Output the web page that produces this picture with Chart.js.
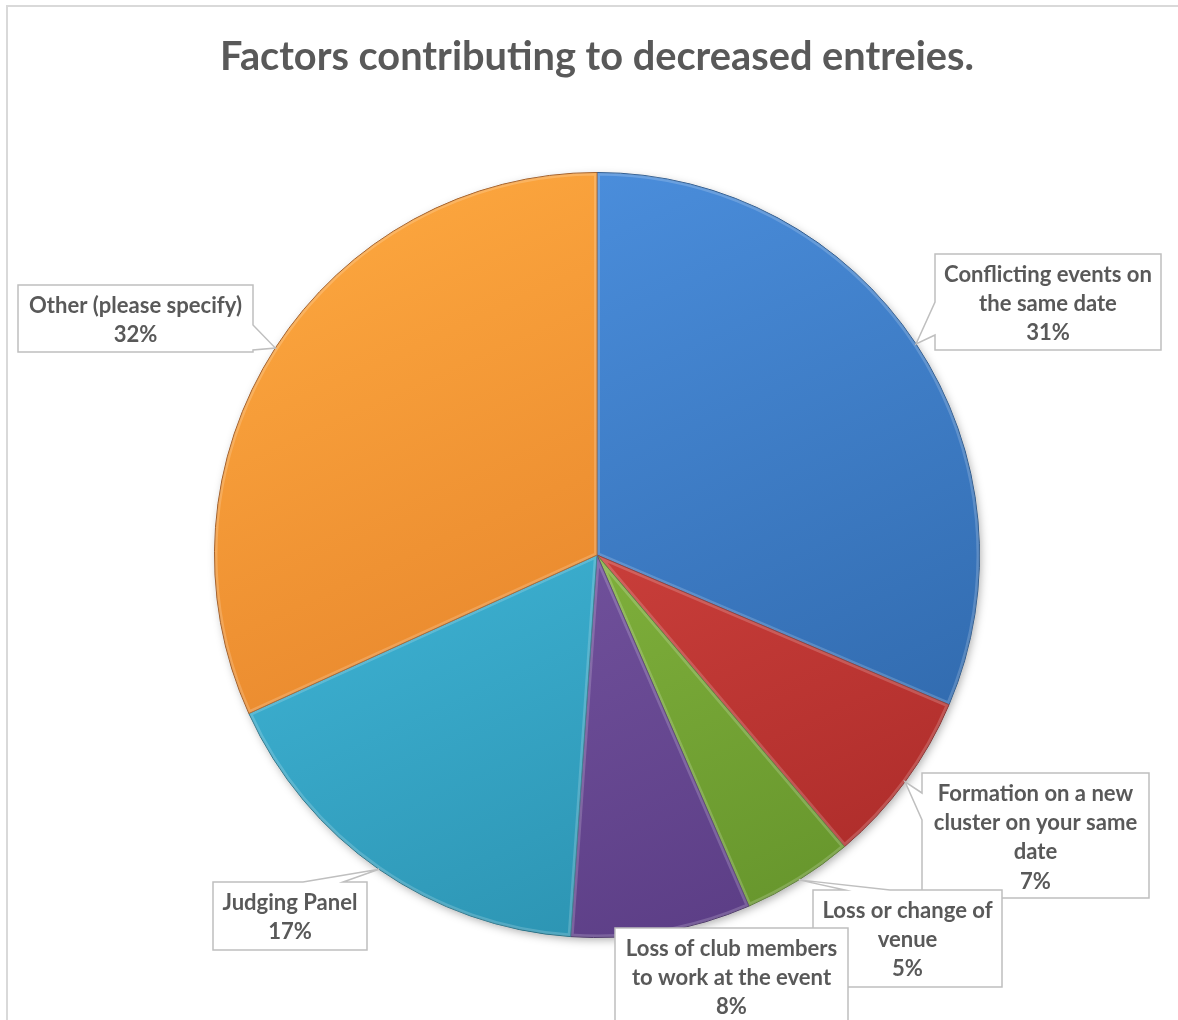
<!DOCTYPE html>
<html><head><meta charset="utf-8">
<script src="https://cdn.jsdelivr.net/npm/chart.js@4.4.0/dist/chart.umd.min.js"></script>
<style>
html,body{margin:0;padding:0;background:#fff;overflow:hidden}
#frame{position:absolute;left:6px;top:5px;width:1300px;height:1100px;border-left:2px solid #d9d9d9;border-top:2px solid #d9d9d9;box-sizing:border-box}
#wrap{position:absolute;left:0;top:0;width:1178px;height:1020px}
</style></head><body>
<div id="frame"></div>
<div id="wrap"><canvas id="c"></canvas></div>
<script>
// ---- data ----
const titleText = 'Factors contributing to decreased entreies.';
const categories = [
  'Conflicting events on the same date',
  'Formation on a new cluster on your same date',
  'Loss or change of venue',
  'Loss of club members to work at the event',
  'Judging Panel',
  'Other (please specify)'
];
const values = [31.4, 7.4, 4.7, 7.6, 17.1, 31.8];

// ---- styles ----
const topColors    = ['#4d91e0', '#e4504a', '#97c94a', '#8463b0', '#49c5e8', '#fca63e'];
const bottomColors = ['#2d65a7', '#ad2c2a', '#66952c', '#5b3d85', '#2a90ae', '#dc7523'];
const edgeColors   = ['#1f4f86', '#7e1f1d', '#4a6e1f', '#40295f', '#1c6a80', '#9c5216'];
const FONT = 'Lato, Carlito, Calibri, "Open Sans", sans-serif';
const TEXT_COLOR = '#595959';

// callout boxes (layout only)
const callouts = [
  {x: 935, y: 254, w: 226, h: 96,  notch: {side: 'left',  a: 302, b: 335}},
  {x: 922, y: 773, w: 227, h: 125, notch: {side: 'left',  a: 793, b: 820}},
  {x: 813, y: 890, w: 189, h: 97,  notch: {side: 'top',   a: 845, b: 890}},
  {x: 615, y: 928, w: 233, h: 150, notch: null},
  {x: 213, y: 882, w: 154, h: 68,  notch: {side: 'top',   a: 303, b: 343}},
  {x: 18,  y: 285, w: 235, h: 67,  notch: {side: 'right', a: 325, b: 350}}
];

// fit font sizes to reference text widths
const mctx = document.createElement('canvas').getContext('2d');
function fitSize(text, target) {
  mctx.font = 'bold 100px ' + FONT;
  return 100 * target / mctx.measureText(text).width;
}
const titleSize = fitSize(titleText, 754);
const labelSize = fitSize('Conflicting events on', 208);
const lineH = 29.3;

const total = values.reduce((a, b) => a + b, 0);

function wrapText(ctx, text, maxW) {
  const words = text.split(' ');
  const lines = [];
  let cur = '';
  for (const w of words) {
    const t = cur ? cur + ' ' + w : w;
    if (cur && ctx.measureText(t).width > maxW) { lines.push(cur); cur = w; }
    else cur = t;
  }
  if (cur) lines.push(cur);
  return lines;
}

const shadowPlugin = {
  id: 'pieShadow',
  beforeDatasetsDraw(chart) {
    const arc = chart.getDatasetMeta(0).data[0];
    if (!arc) return;
    const ctx = chart.ctx;
    ctx.save();
    ctx.shadowColor = 'rgba(0,0,0,0.35)';
    ctx.shadowBlur = 10;
    ctx.shadowOffsetX = 2;
    ctx.shadowOffsetY = 3;
    ctx.beginPath();
    ctx.arc(arc.x, arc.y, arc.outerRadius - 1, 0, Math.PI * 2);
    ctx.fillStyle = '#888';
    ctx.fill();
    ctx.restore();
  },
  afterDatasetsDraw(chart) {
    const ctx = chart.ctx;
    chart.getDatasetMeta(0).data.forEach((arc) => {
      const {x, y, startAngle, endAngle, outerRadius} = arc;
      ctx.save();
      ctx.beginPath();
      ctx.moveTo(x, y);
      ctx.arc(x, y, outerRadius, startAngle, endAngle);
      ctx.closePath();
      ctx.clip();
      ctx.lineWidth = 6;
      ctx.strokeStyle = 'rgba(255,255,255,0.18)';
      ctx.stroke();
      ctx.restore();
    });
  }
};

const calloutPlugin = {
  id: 'callouts',
  afterDraw(chart) {
    const ctx = chart.ctx;
    const arcs = chart.getDatasetMeta(0).data;
    ctx.save();
    ctx.font = 'bold ' + labelSize + 'px ' + FONT;
    arcs.forEach((arc, i) => {
      const c = callouts[i];
      const mid = (arc.startAngle + arc.endAngle) / 2;
      const tx = arc.x + arc.outerRadius * Math.cos(mid);
      const ty = arc.y + arc.outerRadius * Math.sin(mid);
      const {x, y, w, h, notch} = c;
      ctx.beginPath();
      ctx.moveTo(x, y);
      if (notch && notch.side === 'top') { ctx.lineTo(notch.a, y); ctx.lineTo(tx, ty); ctx.lineTo(notch.b, y); }
      ctx.lineTo(x + w, y);
      if (notch && notch.side === 'right') { ctx.lineTo(x + w, notch.a); ctx.lineTo(tx, ty); ctx.lineTo(x + w, notch.b); }
      ctx.lineTo(x + w, y + h);
      if (notch && notch.side === 'bottom') { ctx.lineTo(notch.b, y + h); ctx.lineTo(tx, ty); ctx.lineTo(notch.a, y + h); }
      ctx.lineTo(x, y + h);
      if (notch && notch.side === 'left') { ctx.lineTo(x, notch.b); ctx.lineTo(tx, ty); ctx.lineTo(x, notch.a); }
      ctx.closePath();
      ctx.fillStyle = '#ffffff';
      ctx.fill();
      ctx.lineWidth = 1.5;
      ctx.strokeStyle = '#bfbfbf';
      ctx.stroke();

      const lines = wrapText(ctx, chart.data.labels[i], w - 12);
      lines.push(Math.round(values[i] / total * 100) + '%');
      ctx.fillStyle = TEXT_COLOR;
      ctx.textAlign = 'center';
      ctx.textBaseline = 'middle';
      lines.forEach((ln, k) => ctx.fillText(ln, x + w / 2, y + 20.5 + k * lineH));
    });
    ctx.restore();
  }
};

function sliceGradient(context) {
  const i = context.dataIndex;
  const chart = context.chart;
  const area = chart.chartArea;
  if (!area) return topColors[i];
  const cx = (area.left + area.right) / 2, cy = (area.top + area.bottom) / 2;
  const r = Math.min(area.right - area.left, area.bottom - area.top) / 2;
  const g = chart.ctx.createLinearGradient(cx - r * 0.45, cy - r, cx + r * 0.45, cy + r);
  g.addColorStop(0, topColors[i]);
  g.addColorStop(1, bottomColors[i]);
  return g;
}

const titleBlockH = 172;
new Chart(document.getElementById('c'), {
  type: 'pie',
  data: {
    labels: categories,
    datasets: [{
      data: values,
      backgroundColor: sliceGradient,
      borderColor: edgeColors,
      borderWidth: 1
    }]
  },
  options: {
    responsive: true,
    maintainAspectRatio: false,
    animation: false,
    rotation: 0,
    layout: {padding: {left: 214, right: 198, top: 0, bottom: 82}},
    plugins: {
      legend: {display: false},
      tooltip: {enabled: false},
      title: {
        display: true,
        text: titleText,
        color: TEXT_COLOR,
        font: {family: FONT, size: titleSize, weight: 'bold', lineHeight: 1.2},
        padding: {top: 57 - 0.6 * titleSize, bottom: titleBlockH - 57 - 0.6 * titleSize}
      }
    }
  },
  plugins: [shadowPlugin, calloutPlugin]
});
</script>
</body></html>
